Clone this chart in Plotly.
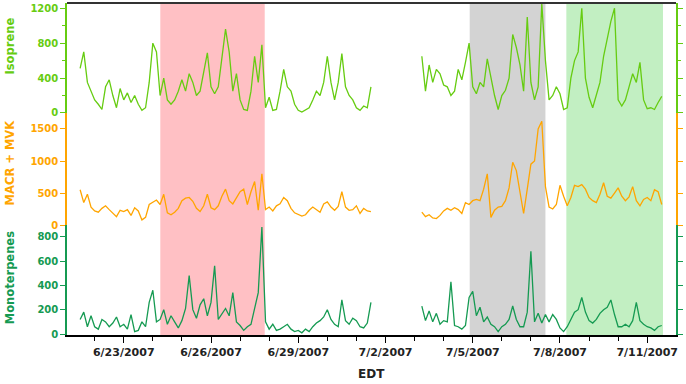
import pandas as pd
import plotly.graph_objects as go

# ---------------- data (3-hourly samples) ----------------
SEG1_START = "2007-06-21 12:00"
SEG2_START = "2007-07-03 06:00"
STEP = "3h"

ISOPRENE_1 = [510, 700, 350, 250, 150, 100, 40, 300,
              380, 200, 60, 280, 150, 230, 120, 200,
              100, 30, 60, 350, 800, 700, 200, 400,
              150, 100, 150, 250, 380, 250, 450, 350,
              200, 250, 450, 690, 300, 220, 300, 620,
              960, 700, 250, 450, 150, 40, 30, 250,
              650, 350, 780, 60, 180, 30, 40, 250,
              500, 300, 250, 100, 30, 10, 40, 60,
              150, 250, 200, 350, 650, 350, 150, 350,
              680, 300, 200, 150, 60, 30, 80, 60,
              300]
ISOPRENE_2 = [650, 250, 550, 350, 500, 450, 320, 300,
              200, 250, 500, 380, 580, 800, 300, 220,
              350, 300, 620, 400, 200, 40, 200, 260,
              400, 900, 750, 550, 250, 1100, 350, 150,
              300, 1250, 600, 150, 200, 300, 220, 40,
              60, 400, 600, 700, 1200, 400, 180, 60,
              200, 350, 650, 850, 1050, 1200, 150, 80,
              150, 300, 450, 350, 580, 150, 50, 60,
              40, 120, 190]

MACR_MVK_1 = [550, 350, 480, 280, 220, 200, 260, 300,
              240, 190, 130, 230, 210, 240, 150, 270,
              220, 80, 120, 320, 360, 390, 320, 480,
              190, 160, 200, 260, 380, 420, 430, 370,
              260, 210, 300, 480, 270, 240, 300, 450,
              560, 380, 330, 420, 520, 560, 320, 520,
              680, 230, 800, 240, 280, 220, 300, 330,
              430, 380, 260, 190, 170, 140, 160, 230,
              280, 240, 200, 330, 360, 280, 230, 290,
              520, 280, 230, 240, 300, 180, 260, 220,
              210]
MACR_MVK_2 = [200, 130, 160, 110, 100, 150, 220, 260,
              230, 270, 240, 180, 350, 320, 380, 400,
              380, 560, 800, 120, 230, 280, 290, 380,
              580, 980, 850, 480, 180, 560, 950, 1000,
              1500, 1620, 600, 280, 250, 320, 620, 450,
              300, 430, 620, 600, 630, 560, 430, 380,
              350, 480, 660, 450, 420, 500, 580, 450,
              380, 440, 600, 380, 300, 400, 430, 380,
              550, 520, 320]

MONOTERPENES_1 = [120, 180, 60, 150, 60, 40, 120, 100,
                  60, 90, 140, 60, 80, 40, 160, 20,
                  30, 100, 60, 260, 360, 100, 120, 200,
                  80, 150, 100, 50, 110, 210, 480, 200,
                  130, 240, 290, 150, 260, 560, 120, 160,
                  210, 150, 340, 100, 70, 30, 60, 80,
                  220, 340, 880, 100, 40, 80, 30, 40,
                  60, 80, 40, 20, 30, 10, 40, 20,
                  60, 90, 110, 140, 200, 120, 80, 60,
                  280, 110, 80, 130, 110, 60, 50, 90,
                  260]
MONOTERPENES_2 = [230, 110, 190, 100, 170, 80, 110, 100,
                  430, 70, 60, 40, 70, 300, 350, 150,
                  220, 100, 140, 80, 60, 20, 60, 80,
                  120, 230, 120, 60, 60, 180, 680, 100,
                  170, 90, 160, 100, 160, 120, 50, 20,
                  60, 120, 180, 200, 300, 180, 110, 90,
                  120, 170, 200, 220, 280, 160, 60, 60,
                  80, 60, 110, 260, 110, 80, 60, 50,
                  30, 60, 70]

# shaded periods (start, end, colour)
SHADES = [("2007-06-24 06:10", "2007-06-27 20:20", "#ffc0c4"),
          ("2007-07-04 21:30", "2007-07-07 12:00", "#d3d3d3"),
          ("2007-07-08 05:15", "2007-07-11 13:00", "#c2efc2")]

X_RANGE = ["2007-06-21 01:10", "2007-07-11 23:45"]

ISO_C = "#66cc11"
MAC_C = "#ffa500"
MON_C = "#159a52"

# ---------------- build ----------------
t1 = list(pd.date_range(SEG1_START, periods=len(ISOPRENE_1), freq=STEP))
t2 = list(pd.date_range(SEG2_START, periods=len(ISOPRENE_2), freq=STEP))
gap = t1[-1] + pd.Timedelta(hours=12)
x = t1 + [gap] + t2


def join(a, b):
    return list(a) + [None] + list(b)


fig = go.Figure()
fig.add_trace(go.Scatter(x=x, y=join(ISOPRENE_1, ISOPRENE_2), mode="lines",
                         line=dict(color=ISO_C, width=1.3), xaxis="x", yaxis="y"))
fig.add_trace(go.Scatter(x=x, y=join(MACR_MVK_1, MACR_MVK_2), mode="lines",
                         line=dict(color=MAC_C, width=1.3), xaxis="x", yaxis="y2"))
fig.add_trace(go.Scatter(x=x, y=join(MONOTERPENES_1, MONOTERPENES_2), mode="lines",
                         line=dict(color=MON_C, width=1.3), xaxis="x", yaxis="y3"))

for s, e, c in SHADES:
    fig.add_shape(type="rect", xref="x", yref="paper", x0=s, x1=e, y0=0, y1=1,
                  fillcolor=c, line=dict(width=0), layer="below")

fig.add_shape(type="line", xref="paper", yref="paper", x0=0, x1=1, y0=1, y1=1,
              line=dict(color="#333333", width=2))


def yax(domain, rng, color, dtick, minor=None):
    d = dict(domain=domain, range=rng, anchor="x", showline=True, linecolor=color,
             linewidth=1.5, mirror="ticks", ticks="outside", ticklen=5, tickwidth=1.2,
             tickcolor=color, tick0=0, dtick=dtick,
             tickfont=dict(family="DejaVu Sans", size=10, color=color, weight="bold"),
             showgrid=False, zeroline=False)
    if minor:
        d["minor"] = dict(dtick=minor, tick0=0, ticks="outside", ticklen=3,
                          tickcolor=color, tickwidth=1.2, showgrid=False)
    return d


fig.update_layout(
    width=686, height=384,
    margin=dict(l=67, r=7, t=3, b=49),
    plot_bgcolor="white", paper_bgcolor="white",
    showlegend=False,
    font=dict(family="DejaVu Sans"),
    xaxis=dict(range=X_RANGE, type="date", anchor="y3", showline=True,
               linecolor="black", linewidth=1.5, ticks="outside", ticklen=6,
               tickwidth=1.2, tickcolor="black", tick0="2007-06-23",
               dtick=3 * 86400000, tickformat="%-m/%-d/%Y",
               tickfont=dict(family="DejaVu Sans", size=11, color="#222222", weight="bold"),
               minor=dict(dtick=86400000, tick0="2007-06-21", ticks="outside",
                          ticklen=4, tickcolor="black", tickwidth=1.2, showgrid=False),
               showgrid=False, zeroline=False),
    yaxis=yax([0.6687, 1.0], [0, 1260], ISO_C, 400, 200),
    yaxis2=yax([0.3313, 0.6687], [0, 1750], MAC_C, 500),
    yaxis3=yax([0.0, 0.3313], [-8, 896], MON_C, 200),
)

titles = [("Isoprene", 0.870, ISO_C), ("MACR + MVK", 0.521, MAC_C),
          ("Monoterpenes", 0.172, MON_C)]
for txt, yy, c in titles:
    fig.add_annotation(text=txt, xref="paper", yref="paper", x=-0.093, y=yy,
                       textangle=-90, showarrow=False, xanchor="center", yanchor="middle",
                       font=dict(family="DejaVu Sans", size=11.5, color=c, weight="bold"))
fig.add_annotation(text="EDT", xref="paper", yref="paper", x=0.5, y=-0.1175,
                   showarrow=False, xanchor="center", yanchor="middle",
                   font=dict(family="DejaVu Sans", size=12, color="#222222", weight="bold"))

fig.write_html("out.html")
